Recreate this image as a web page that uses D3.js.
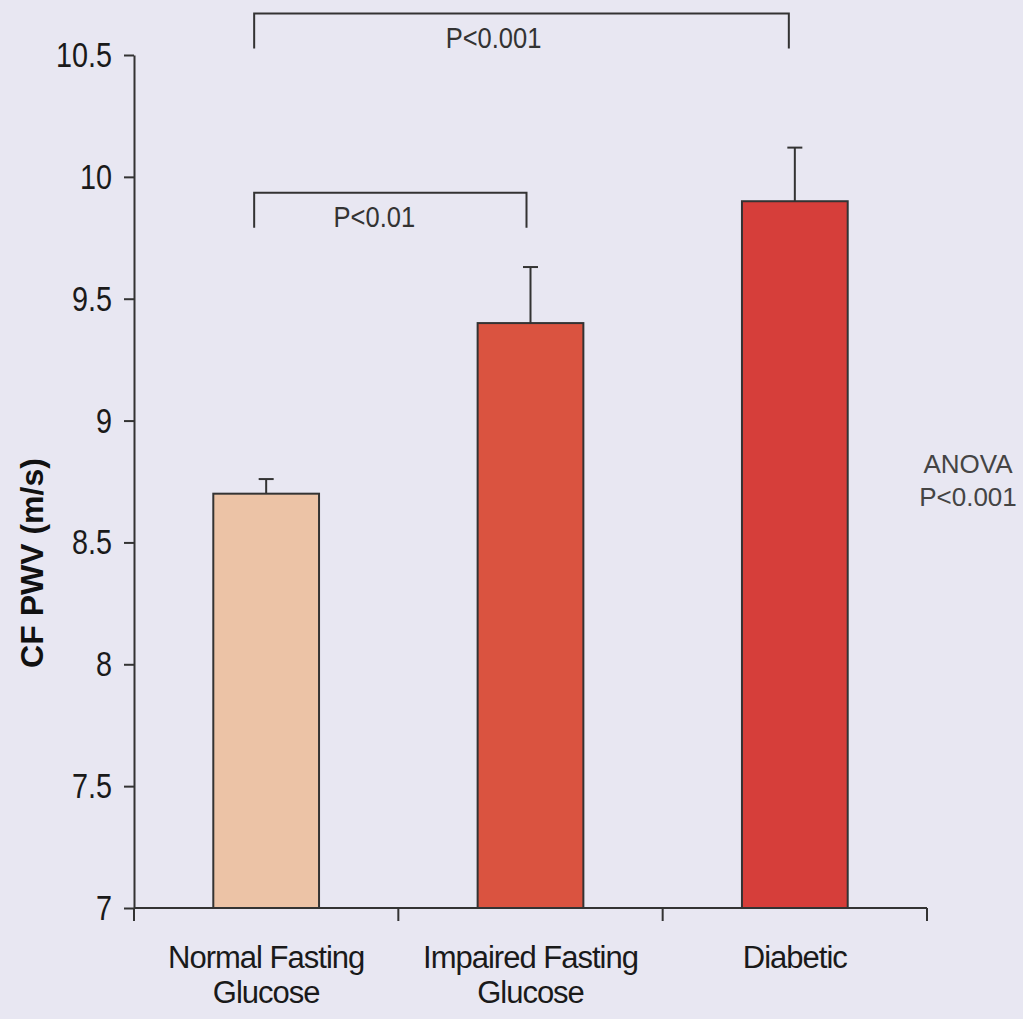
<!DOCTYPE html>
<html>
<head>
<meta charset="utf-8">
<script src="https://cdn.jsdelivr.net/npm/d3@7"></script>
<style>
  html, body { margin: 0; padding: 0; background: #e8e7f2; }
  svg { display: block; }
  text { font-family: "Liberation Sans", Arial, sans-serif; }
</style>
</head>
<body>
<svg id="chart" width="1023" height="1019"></svg>
<script>
// ---- data ----
const categories = [["Normal Fasting", "Glucose"], ["Impaired Fasting", "Glucose"], ["Diabetic"]];
const means = [8.70, 9.40, 9.90];
const errors = [0.06, 0.23, 0.22];
const barColors = ["#ecc3a6", "#da5340", "#d63e3a"];
const yTicks = [7, 7.5, 8, 8.5, 9, 9.5, 10, 10.5];
const yTickLabels = ["7", "7.5", "8", "8.5", "9", "9.5", "10", "10.5"];
const comparisons = [
  { from: 0, to: 2, label: "P<0.001", level: 10.67 },
  { from: 0, to: 1, label: "P<0.01", level: 9.935 }
];
const yLabel = "CF PWV (m/s)";
const anovaLines = ["ANOVA", "P<0.001"];

// ---- layout ----
const svg = d3.select("#chart");
const x0 = 134, x1 = 927, yTop = 55, yBot = 908;
const idx = d3.range(categories.length);
const x = d3.scaleBand().domain(idx).range([x0, x1]).paddingInner(0.6).paddingOuter(0.3);
const y = d3.scaleLinear().domain([7, 10.5]).range([yBot, yTop]);
const ink = "#333";

// bars
svg.selectAll("rect.bar").data(idx).join("rect")
  .attr("class", "bar")
  .attr("x", i => x(i))
  .attr("y", i => y(means[i]))
  .attr("width", x.bandwidth())
  .attr("height", i => y(7) - y(means[i]))
  .attr("fill", i => barColors[i])
  .attr("stroke", ink)
  .attr("stroke-width", 2);

// error bars (upper only)
const capW = 15;
idx.forEach(i => {
  const cx = x(i) + x.bandwidth() / 2;
  svg.append("line").attr("x1", cx).attr("x2", cx)
    .attr("y1", y(means[i])).attr("y2", y(means[i] + errors[i]))
    .attr("stroke", ink).attr("stroke-width", 2);
  svg.append("line").attr("x1", cx - capW / 2).attr("x2", cx + capW / 2)
    .attr("y1", y(means[i] + errors[i])).attr("y2", y(means[i] + errors[i]))
    .attr("stroke", ink).attr("stroke-width", 2);
});

// y axis
const yAxis = d3.axisLeft(y).tickValues(yTicks)
  .tickFormat((d, i) => yTickLabels[i]).tickSize(10).tickSizeOuter(0).tickPadding(12);
const gy = svg.append("g").attr("transform", `translate(${x0},0)`).call(yAxis);
gy.select(".domain").attr("stroke", ink).attr("stroke-width", 2);
gy.selectAll(".tick line").attr("stroke", ink).attr("stroke-width", 2);
gy.selectAll(".tick text")
  .attr("fill", "#1a1a1a")
  .style("font-size", "36px")
  .attr("transform", function () {
    const tx = +d3.select(this).attr("x");
    d3.select(this).attr("x", 0);
    return `translate(${tx},0) scale(0.8,1)`;
  });

// x axis (line with boundary ticks)
const boundaries = d3.range(categories.length + 1).map(k => x0 + k * (x1 - x0) / categories.length);
svg.append("line").attr("x1", x0).attr("x2", x1).attr("y1", yBot).attr("y2", yBot)
  .attr("stroke", ink).attr("stroke-width", 2);
svg.selectAll("line.xtick").data(boundaries).join("line")
  .attr("class", "xtick")
  .attr("x1", d => d).attr("x2", d => d)
  .attr("y1", yBot).attr("y2", yBot + 13)
  .attr("stroke", ink).attr("stroke-width", 2);

// category labels
idx.forEach(i => {
  const cx = x(i) + x.bandwidth() / 2;
  const t = svg.append("text")
    .attr("text-anchor", "middle")
    .attr("fill", "#1a1a1a")
    .style("font-size", "31px")
    .style("letter-spacing", "-1px")
    .attr("transform", `translate(${cx},968)`);
  categories[i].forEach((line, k) => {
    t.append("tspan").attr("x", 0).attr("y", k * 35).text(line);
  });
});

// y label
svg.append("text")
  .attr("transform", `translate(43,563) rotate(-90)`)
  .attr("text-anchor", "middle")
  .attr("fill", "#111")
  .style("font-size", "32px")
  .style("font-weight", "bold")
  .text(yLabel);

// comparison brackets
const offsets = { 0: -12, 1: -4, 2: -6 };
const labelShift = [-28, -16];
comparisons.forEach((c, j) => {
  const xa = x(c.from) + x.bandwidth() / 2 + offsets[c.from];
  const xb = x(c.to) + x.bandwidth() / 2 + offsets[c.to];
  const yl = y(c.level);
  const drop = 35;
  svg.append("path")
    .attr("d", `M${xa},${yl + drop}V${yl}H${xb}V${yl + drop}`)
    .attr("fill", "none").attr("stroke", ink).attr("stroke-width", 2);
  svg.append("text")
    .attr("text-anchor", "middle")
    .attr("fill", "#333")
    .style("font-size", "30px")
    .attr("transform", `translate(${(xa + xb) / 2 + labelShift[j]},${yl + 34}) scale(0.85,1)`)
    .text(c.label);
});

// ANOVA note
const an = svg.append("text").attr("text-anchor", "middle").attr("fill", "#444")
  .style("font-size", "26px").attr("transform", "translate(968,473)");
anovaLines.forEach((l, k) => an.append("tspan").attr("x", 0).attr("y", k * 33).text(l));
</script>
</body>
</html>
